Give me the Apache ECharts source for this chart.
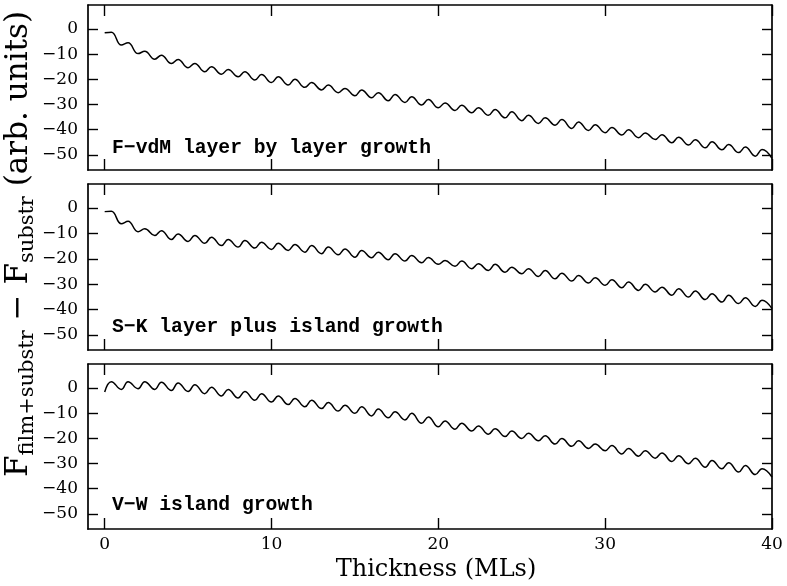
<!DOCTYPE html>
<html>
<head>
<meta charset="utf-8">
<script src="https://cdn.jsdelivr.net/npm/echarts@6/dist/echarts.min.js"></script>
<style>
html,body{margin:0;padding:0;background:#fff;}
#chart{width:787px;height:586px;}
</style>
</head>
<body>
<div id="chart"></div>
<script>
// ---- data ----
const thickness = [0,0.4,1,1.4,2,2.4,3,3.4,4,4.4,5,5.4,6,6.4,7,7.4,8,8.4,9,9.4,
  10,10.4,11,11.4,12,12.4,13,13.4,14,14.4,15,15.4,16,16.4,17,17.4,18,18.4,19,19.4,
  20,20.4,21,21.4,22,22.4,23,23.4,24,24.4,25,25.4,26,26.4,27,27.4,28,28.4,29,29.4,
  30,30.4,31,31.4,32,32.4,33,33.4,34,34.4,35,35.4,36,36.4,37,37.4,38,38.4,39,39.4,40];

const fvdmGrowth = [-1.5,-1.3,-6.4,-5.5,-9.8,-8.9,-12.0,-10.4,-13.7,-12.1,
  -15.4,-13.7,-17.0,-15.0,-18.0,-16.1,-19.0,-17.0,-20.3,-18.1,
  -21.3,-19.0,-22.3,-20.0,-23.2,-21.3,-24.2,-22.3,-25.3,-23.6,
  -26.5,-24.2,-27.3,-25.3,-28.5,-26.0,-29.2,-26.9,-30.2,-28.0,
  -31.3,-29.4,-32.4,-30.3,-33.3,-31.3,-34.3,-32.0,-35.3,-32.9,
  -36.4,-34.3,-37.5,-35.3,-38.2,-36.0,-39.5,-36.9,-40.3,-38.0,
  -41.2,-39.1,-42.1,-40.0,-43.2,-41.3,-43.9,-42.0,-45.2,-43.0,
  -46.1,-44.0,-47.2,-44.8,-48.0,-45.9,-49.1,-46.9,-50.5,-47.9,-51.4];

const skGrowth = [-1.4,-1.3,-6.2,-5.2,-9.3,-8.2,-10.8,-8.9,-12.4,-10.2,
  -13.2,-10.8,-13.9,-11.5,-14.8,-12.4,-15.4,-12.8,-15.8,-13.5,
  -16.3,-13.9,-16.7,-14.4,-17.4,-14.8,-18.0,-15.4,-18.4,-16.1,
  -19.4,-16.7,-19.6,-17.4,-20.4,-18.0,-20.9,-18.7,-21.6,-19.5,
  -22.2,-20.7,-23.0,-20.9,-23.9,-22.0,-24.6,-22.2,-25.3,-23.3,
  -25.9,-23.9,-27.0,-24.6,-27.9,-25.7,-28.8,-26.6,-29.6,-27.5,
  -30.5,-28.3,-31.4,-29.2,-32.5,-30.1,-33.1,-31.2,-34.4,-31.8,
  -35.1,-32.7,-36.1,-33.8,-37.1,-34.4,-37.7,-35.4,-38.8,-36.4,-39.7];

const vwGrowth = [-1.6,2.5,-0.6,2.5,-0.3,2.5,-0.6,2.3,-1.0,2.0,
  -1.4,1.3,-2.3,0.3,-3.2,-0.6,-4.0,-1.4,-4.9,-2.3,
  -5.6,-3.2,-6.6,-4.2,-7.5,-4.9,-8.2,-5.8,-9.2,-6.9,
  -10.1,-7.5,-11.1,-8.4,-11.8,-9.5,-12.7,-10.1,-14.0,-11.5,
  -15.4,-13.1,-16.4,-14.0,-17.1,-15.1,-18.4,-16.2,-19.3,-17.1,
  -20.1,-18.0,-21.0,-19.0,-22.3,-20.1,-23.2,-21.0,-24.0,-22.3,
  -24.9,-22.9,-26.2,-24.0,-27.1,-24.9,-27.9,-25.8,-29.2,-26.9,
  -30.1,-27.9,-31.5,-28.8,-32.1,-29.7,-33.4,-30.8,-34.4,-32.1,-35.4];

const panelLabels = ['F\u2212vdM layer by layer growth', 'S\u2212K layer plus island growth', 'V\u2212W island growth'];
const yTicks = [0, -10, -20, -30, -40, -50];
const xTicks = [0, 10, 20, 30, 40];
const xTitle = 'Thickness (MLs)';

// ---- chart ----
const chart = echarts.init(document.getElementById('chart'), null, {renderer: 'canvas'});
const seriesValues = [fvdmGrowth, skGrowth, vwGrowth];
const grids = [
  {left: 88, top: 5, width: 684, height: 165},
  {left: 88, top: 184, width: 684, height: 166},
  {left: 88, top: 364, width: 684, height: 165}
];
const lineCol = '#000';
const serif = '"DejaVu Serif", serif';
const fmtY = v => (v < 0 ? '\u2212' + Math.abs(v) : String(v));

const xAxes = [], yAxes = [], series = [];
grids.forEach((g, i) => {
  ['bottom', 'top'].forEach(pos => {
    xAxes.push({
      gridIndex: i, type: 'value', position: pos, min: -1, max: 40,
      axisLine: {show: true, onZero: false, lineStyle: {color: lineCol, width: 1.7}},
      axisTick: {show: true, inside: true, length: 11, customValues: xTicks, lineStyle: {color: lineCol, width: 1.4}},
      axisLabel: {show: pos === 'bottom' && i === 2, customValues: xTicks, color: '#000', fontFamily: serif, fontSize: 17, margin: 7},
      splitLine: {show: false}
    });
  });
  ['left', 'right'].forEach(pos => {
    yAxes.push({
      gridIndex: i, type: 'value', position: pos, min: -56, max: 9.5,
      axisLine: {show: true, onZero: false, lineStyle: {color: lineCol, width: 1.7}},
      axisTick: {show: true, inside: true, length: 10, customValues: yTicks, lineStyle: {color: lineCol, width: 1.4}},
      axisLabel: {show: pos === 'left', customValues: yTicks, formatter: fmtY, color: '#000', fontFamily: serif, fontSize: 17, margin: 10},
      splitLine: {show: false}
    });
  });
  series.push({
    type: 'line', xAxisIndex: 2 * i, yAxisIndex: 2 * i,
    data: thickness.map((x, k) => [x, seriesValues[i][k]]),
    showSymbol: false, symbol: 'none', smooth: 0.45,
    lineStyle: {color: lineCol, width: 1.5}, silent: true, animation: false
  });
});

const labelY = [148, 327, 505];
const graphics = panelLabels.map((t, i) => ({
  type: 'text', x: 112, y: labelY[i],
  style: {text: t, fill: '#000', font: 'bold 19.7px "Liberation Mono", monospace', verticalAlign: 'middle', align: 'left'}
}));
graphics.push({
  type: 'text', x: 436, y: 570,
  style: {text: xTitle, fill: '#000', font: '24px ' + serif, align: 'center', verticalAlign: 'middle'}
});
graphics.push({
  type: 'text', x: 19, y: 244, rotation: Math.PI / 2,
  style: {
    text: '{m|F}{s|film+substr}{m| \u2212 F}{s|substr}{m| (arb. units)}',
    align: 'center', verticalAlign: 'middle', fill: '#000',
    rich: {
      m: {fontFamily: serif, fontSize: 31, lineHeight: 38, fill: '#000', verticalAlign: 'middle'},
      s: {fontFamily: serif, fontSize: 21, lineHeight: 21, fill: '#000', verticalAlign: 'bottom'}
    }
  }
});

chart.setOption({
  animation: false,
  backgroundColor: '#fff',
  grid: grids,
  xAxis: xAxes,
  yAxis: yAxes,
  series: series,
  graphic: graphics
});
</script>
</body>
</html>
